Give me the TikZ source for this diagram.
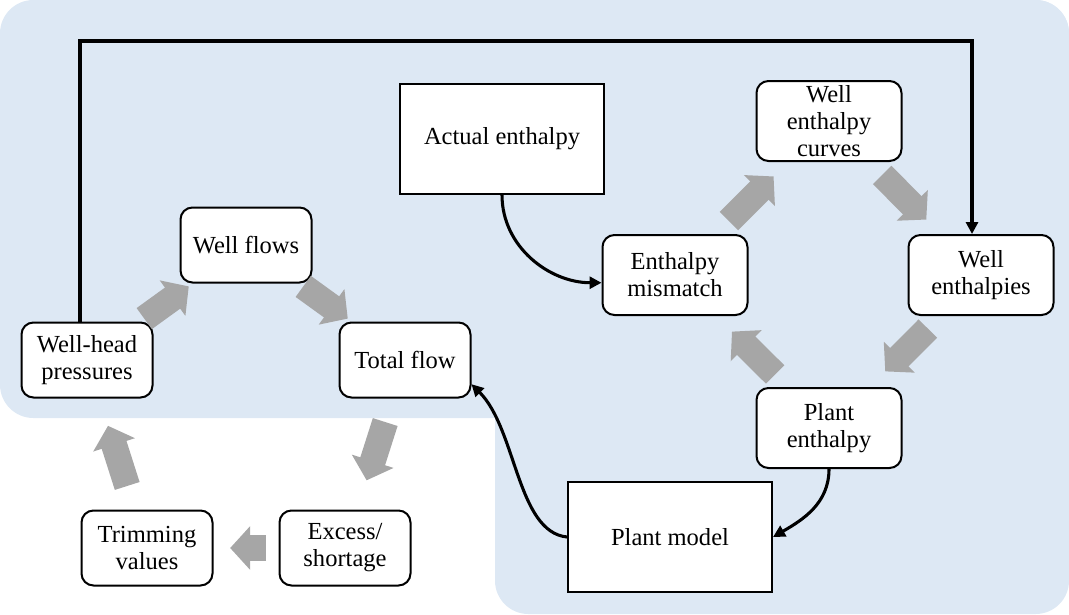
\documentclass[tikz,border=0pt]{standalone}
\usepackage{fontspec}
\setmainfont{Liberation Serif}
\usetikzlibrary{arrows.meta}
\usetikzlibrary{calc}

\definecolor{panelblue}{HTML}{DDE8F4}
\definecolor{flowgray}{HTML}{A6A6A6}

\tikzset{
  softbox/.style={draw=black, line width=1.5pt, fill=white, rounded corners=9pt,
    align=center, inner sep=0pt, minimum width=98.25pt, minimum height=56.25pt,
    font=\fontsize{18.4}{20.3}\selectfont},
  widebox/.style={softbox, minimum width=108.75pt, minimum height=60pt},
  hardbox/.style={draw=black, line width=1.5pt, fill=white, align=center,
    inner sep=0pt, minimum width=153pt, minimum height=82.5pt,
    font=\fontsize{18.4}{20.3}\selectfont},
  flowarrow/.style={draw=flowgray, line width=19.5pt,
    -{Triangle[width=32pt, length=15pt]}},
  linkarrow/.style={draw=black, line width=2.3pt,
    -{Triangle[width=9pt, length=9pt]}}
}

\begin{document}
\begin{tikzpicture}[x=0.75pt, y=-0.75pt]
        \useasboundingbox (0,0) rectangle (1069,614);
        \fill[panelblue, rounded corners=25pt] (0,0) rectangle (1069,418);
        \fill[panelblue, rounded corners=25pt] (495,0) rectangle (1069,614);

        % flow side
        \node[softbox] (whp) at (87,360) {Well-head\\pressures};
        \node[softbox] (wf) at (246,245) {Well flows};
        \node[softbox] (tot) at (405,360) {Total flow};
        \node[softbox] (exc) at (345,548) {Excess/\\shortage};
        \node[softbox] (trim) at (147,548) {Trimming\\values};

        % enthalpy side
        \node[hardbox] (act) at (502,139) {Actual enthalpy};
        \node[widebox] (mis) at (675,275) {Enthalpy\\mismatch};
        \node[widebox] (cur) at (829,121) {Well\\enthalpy\\curves};
        \node[widebox] (wen) at (981,275) {Well\\enthalpies};
        \node[widebox] (pen) at (829,428) {Plant\\enthalpy};
        \node[hardbox] (pm) at (670,537) {Plant model};

        \coordinate (loopL) at (80,41);
        \coordinate (loopR) at (972,41);

        \draw[flowarrow] ($(whp)!0.36!(wf)$) -- ($(whp)!0.64!(wf)$);
        \draw[flowarrow] ($(wf)!0.36!(tot)$) -- ($(wf)!0.64!(tot)$);
        \draw[flowarrow] ($(tot)!0.33!(exc)$) -- ($(tot)!0.64!(exc)$);
        \draw[flowarrow] ($(exc)!0.40!(trim)$) -- ($(exc)!0.58!(trim)$);
        \draw[flowarrow] ($(trim)!0.33!(whp)$) -- ($(trim)!0.65!(whp)$);

        \draw[flowarrow] ($(mis)!0.35!(cur)$) -- ($(mis)!0.64!(cur)$);
        \draw[flowarrow] ($(cur)!0.35!(wen)$) -- ($(cur)!0.64!(wen)$);
        \draw[flowarrow] ($(wen)!0.35!(pen)$) -- ($(wen)!0.63!(pen)$);
        \draw[flowarrow] ($(pen)!0.35!(mis)$) -- ($(pen)!0.63!(mis)$);

        \draw[linkarrow] (whp.north -| loopL) -- (loopL) -- (loopR) -- (loopR |- wen.north);
        \draw[linkarrow] (act.south) to[out=-90, in=180] (mis.186);
        \draw[linkarrow] (pen.south) to[out=-90, in=30] (pm.east);
        \draw[linkarrow] (pm.west) .. controls +(-50,-5) and +(45,45) .. (tot.-20);
    \end{tikzpicture}
\end{document}
